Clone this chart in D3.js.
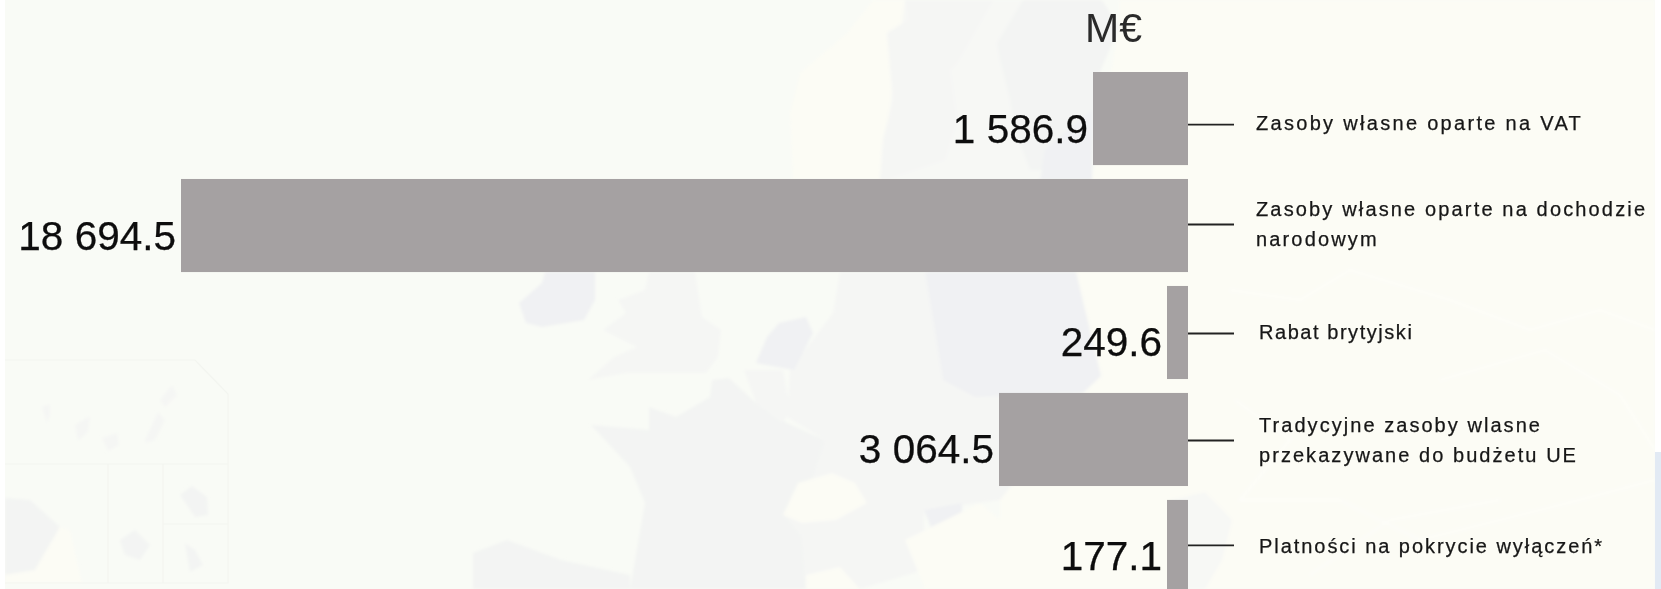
<!DOCTYPE html>
<html>
<head>
<meta charset="utf-8">
<style>
  html, body { margin: 0; padding: 0; background: #fff; overflow: hidden; }
  text { font-family: "Liberation Sans", Arial, sans-serif; }
  .value { font-size: 40.5px; fill: #0c0c0c; stroke: #0c0c0c; stroke-width: 0.25px; text-anchor: end; }
  .unit { font-size: 41px; fill: #2c2c2c; }
  .label { font-size: 20px; fill: #161616; stroke: #161616; stroke-width: 0.25px; }
</style>
</head>
<body>
<svg id="chart" width="1661" height="589"></svg>
<script src="https://cdn.jsdelivr.net/npm/d3@7"></script>
<script>
const categories = [
  "Zasoby własne oparte na VAT",
  "Zasoby własne oparte na dochodzie narodowym",
  "Rabat brytyjski",
  "Tradycyjne zasoby wlasne przekazywane do budżetu UE",
  "Platności na pokrycie wyłączeń*"
];
const values = [1586.9, 18694.5, 249.6, 3064.5, 177.1];
const labelLines = [
  ["Zasoby własne oparte na VAT"],
  ["Zasoby własne oparte na dochodzie", "narodowym"],
  ["Rabat brytyjski"],
  ["Tradycyjne zasoby wlasne", "przekazywane do budżetu UE"],
  ["Platności na pokrycie wyłączeń*"]
];
const unit = "M€";

// faint map behind the bars, only decoration
const CREAM = "#fcfcf5", GREY = "#f3f4f3", MID = "#f5f6f4", DARK = "#f0f1f3", GULF = "#f7f8f5";
const mapShapes = [
  [CREAM, [[1119,0],[1655,0],[1655,589],[1000,589],[1000,500],[1084,392],[1101,376],[1076,272],[1119,27]]],
  [CREAM, [[873,0],[847,33],[800,73],[790,113],[793,180],[880,180],[883,140],[893,100],[887,33],[908,20],[905,0]]],
  [GULF, [[905,0],[1040,0],[1040,180],[880,180]]],
  [MID, [[905,0],[993,0],[957,63],[950,70],[957,120],[945,160],[885,180],[880,180],[883,140],[893,100],[887,33],[908,20]]],
  [GREY, [[1023,0],[1102,0],[1119,27],[1100,72],[1092,170],[1030,170],[1015,130],[1010,100],[1000,60],[997,43]]],
  [DARK, [[1045,150],[1092,110],[1092,180],[1040,180]]],
  [DARK, [[519,303],[542,283],[545,272],[595,272],[595,300],[584,320],[542,327],[526,323]]],
  [MID, [[649,272],[695,272],[702,317],[721,330],[718,357],[706,373],[626,373],[588,380],[614,357],[637,347],[603,330],[626,313],[618,300],[645,290]]],
  [MID, [[790,370],[833,313],[840,272],[925,272],[943,380],[1084,392],[1000,500],[924,510],[813,477],[825,440],[787,417]]],
  [GREY, [[591,425],[649,430],[649,407],[676,417],[710,397],[712,380],[729,378],[756,403],[787,423],[825,440],[813,477],[783,513],[802,537],[806,589],[630,589],[645,503],[630,467]]],
  [GREY, [[473,553],[507,540],[561,560],[630,575],[630,589],[473,589]]],
  [DARK, [[767,337],[779,323],[806,317],[813,333],[794,370],[756,363]]],
  [MID, [[744,370],[783,370],[790,410],[783,423],[756,403]]],
  [DARK, [[925,272],[1076,272],[1101,376],[1084,392],[975,397],[943,380]]],
  [MID, [[813,477],[924,477],[924,570],[860,589],[806,589],[802,537],[783,513]]],
  [GULF, [[1170,500],[1205,492],[1232,520],[1222,560],[1205,589],[1170,589]]],
  [CREAM, [[783,515],[798,483],[832,473],[855,483],[867,503],[836,520],[802,523]]],
  [DARK, [[924,510],[962,503],[962,523],[943,530],[932,530]]],
  [CREAM, [[905,540],[980,503],[1000,520],[1000,589],[925,589]]],
  [CREAM, [[806,575],[840,567],[860,589],[806,589]]],
  // overseas territories in the lower left
  [GREY, [[5,498],[30,500],[60,527],[35,570],[5,575]]],
  [CREAM, [[60,527],[70,530],[82,583],[5,583],[5,575],[35,570]]],
  [MID, [[42,407],[50,404],[50,415],[47,423]]],
  [MID, [[75,425],[90,416],[88,432],[78,441]]],
  [MID, [[102,438],[117,433],[119,445],[108,451]]],
  [MID, [[145,440],[158,412],[165,420],[155,440],[146,443]]],
  [MID, [[160,400],[172,385],[177,395],[165,407]]],
  [GREY, [[180,495],[192,486],[207,497],[208,515],[195,517]]],
  [GREY, [[120,540],[135,530],[150,545],[140,560],[125,555]]],
  [GREY, [[185,543],[195,550],[203,565],[190,572]]]
];
const insetFrames = [
  [[5,360],[195,360],[228,394],[228,583],[5,583]],
  [[5,464],[228,464]],
  [[108,464],[108,583]],
  [[163,464],[163,583]],
  [[163,524],[228,524]]
];
const borderLines = [
  [[1230,290],[1300,300],[1350,270],[1450,300],[1530,330],[1600,310],[1655,330]],
  [[1440,380],[1545,350],[1620,395],[1655,450]],
  [[1235,400],[1290,440],[1240,500],[1340,500],[1420,540],[1560,505],[1655,480]],
  [[1310,575],[1390,520],[1500,500]]
];

const svg = d3.select("#chart");
const line = d3.line();

// paper, with the white edges of the original image
svg.append("rect").attr("width", 1661).attr("height", 589).attr("fill", "#fff");
svg.append("rect").attr("x", 5).attr("width", 1650).attr("height", 589).attr("fill", "#f9fbf6");

const soft = svg.append("defs").append("filter").attr("id", "soft");
soft.append("feGaussianBlur").attr("stdDeviation", 0.45);
const softMap = svg.select("defs").append("filter").attr("id", "softMap");
softMap.append("feGaussianBlur").attr("stdDeviation", 1.6);

const map = svg.append("g").attr("filter", "url(#softMap)");
map.selectAll("path.land").data(mapShapes).enter()
  .append("path")
  .attr("class", "land")
  .attr("fill", d => d[0])
  .attr("d", d => line(d[1]) + "Z");
map.selectAll("path.border").data(borderLines).enter()
  .append("path")
  .attr("class", "border")
  .attr("fill", "none")
  .attr("stroke", "#fefefb")
  .attr("stroke-width", 1.5)
  .attr("d", d => line(d));
svg.selectAll("path.frame").data(insetFrames).enter()
  .append("path")
  .attr("class", "frame")
  .attr("fill", "none")
  .attr("stroke", "#f3f5f0")
  .attr("stroke-width", 1.2)
  .attr("d", d => line(d));

// white margin and blue corner sit on top of the map
svg.append("rect").attr("x", 1655).attr("width", 6).attr("height", 589).attr("fill", "#fff");
svg.append("rect").attr("x", 1655).attr("y", 452).attr("width", 6).attr("height", 137).attr("fill", "#e2eaf4");
svg.append("rect").attr("width", 5).attr("height", 589).attr("fill", "#fff");

// the original bars are not to scale: small values are drawn wider, the two
// smallest have the same width. so the scale goes through every value
const x = d3.scaleLinear()
  .domain([0, 177.1, 249.6, 1586.9, 3064.5, 18694.5])
  .range([1188, 1167, 1167, 1093, 999, 181]);
const y = d3.scaleBand().domain(categories).range([72, 593]).paddingInner(0.13);

const format = d3.formatLocale({ decimal: ".", thousands: " ", grouping: [3], currency: ["", ""] }).format(",.1f");

const rows = categories.map((c, i) => ({ category: c, value: values[i], lines: labelLines[i] }));
const leaderOffset = [6, -1, 1, 1, -1];
const labelX = [1256, 1256, 1259, 1259, 1259];
const labelSpacing = [2.3, 2.15, 1.55, 2.05, 1.95];
const labelDy = [5, 6, 6, 7, 8];
const lineGap = 30;

const row = svg.selectAll("g.row").data(rows).enter()
  .append("g")
  .attr("class", "row")
  .attr("transform", d => "translate(0," + y(d.category) + ")");

row.append("rect")
  .attr("x", d => x(d.value))
  .attr("width", d => x(0) - x(d.value))
  .attr("height", y.bandwidth())
  .attr("fill", "#a5a1a2");

row.append("line")
  .attr("x1", x(0))
  .attr("x2", 1234)
  .attr("y1", (d, i) => y.bandwidth() / 2 + leaderOffset[i])
  .attr("y2", (d, i) => y.bandwidth() / 2 + leaderOffset[i])
  .attr("stroke", "#222")
  .attr("stroke-width", 1.8);

row.append("text")
  .attr("class", "value")
  .attr("filter", "url(#soft)")
  .attr("x", d => x(d.value) - 5)
  .attr("y", y.bandwidth() / 2 + 24)
  .text(d => format(d.value));

row.each(function(d, i) {
  const n = d.lines.length;
  d3.select(this).selectAll("text.label").data(d.lines).enter()
    .append("text")
    .attr("class", "label")
    .attr("filter", "url(#soft)")
    .attr("x", labelX[i])
    .attr("y", (t, j) => y.bandwidth() / 2 + leaderOffset[i] + labelDy[i] + (j - (n - 1) / 2) * lineGap)
    .style("letter-spacing", labelSpacing[i] + "px")
    .text(t => t);
});

svg.append("text")
  .attr("class", "unit")
  .attr("filter", "url(#soft)")
  .attr("x", 1085)
  .attr("y", 42)
  .text(unit);
</script>
</body>
</html>
